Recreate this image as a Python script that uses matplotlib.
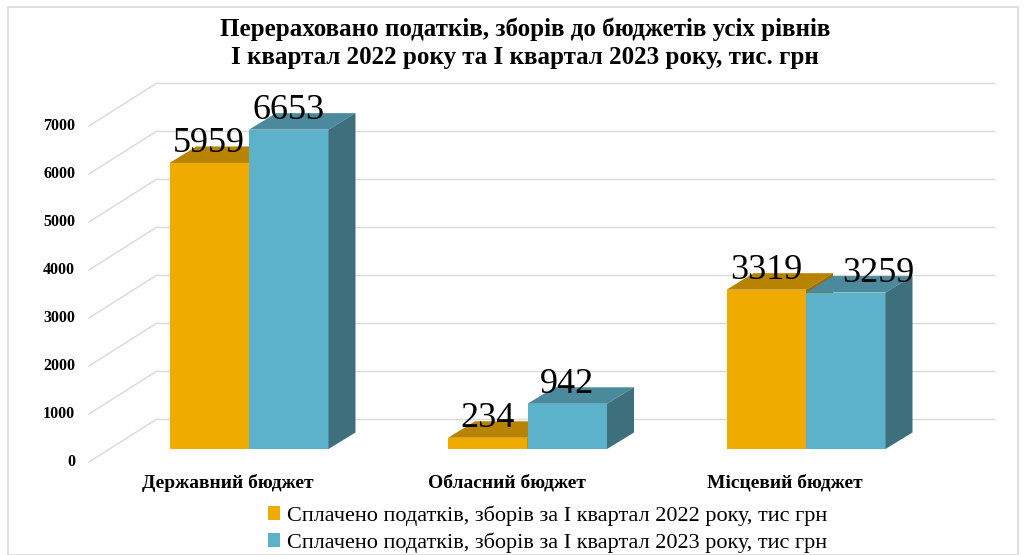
import numpy as np
import matplotlib.pyplot as plt
from matplotlib.patches import Polygon, Rectangle, Patch

# ----- data ----------------------------------------------------------------
categories = ["Державний бюджет", "Обласний бюджет", "Місцевий бюджет"]
paid_2022 = [5959, 234, 3319]
paid_2023 = [6653, 942, 3259]
series_names = [
    "Сплачено податків, зборів за I квартал 2022 року, тис грн",
    "Сплачено податків, зборів за I квартал 2023 року, тис грн",
]
y_ticks = [0, 1000, 2000, 3000, 4000, 5000, 6000, 7000]
title = ("Перераховано податків, зборів до бюджетів усіх рівнів\n"
         "I квартал 2022 року та I квартал 2023 року, тис. грн")

# ----- styles --------------------------------------------------------------
SERIF = ["Liberation Serif", "DejaVu Serif"]
FRONT = ["#F0AB00", "#5DB2CB"]
TOP = ["#B88400", "#4A8A9C"]
SIDE = ["#9A6F00", "#3E6F7D"]
GRID = "#D9D9D9"

W, H, DPI = 1026, 555, 100
PX_X = 278.5        # pixels per category step
PX_Y = 0.048        # pixels per value unit
BAR_W = 79.5 / PX_X

def dx(px):
    return px / PX_X

def dy(px):
    return px / PX_Y

# depth vectors (pixels, converted to data units)
BAR_DX, BAR_DY = dx(27), dy(16.5)       # bar depth
FRONT_DX, FRONT_DY = dx(-21), dy(-13)   # floor front edge relative to bar plane
BACK_DX, BACK_DY = dx(47), dy(30)       # back wall relative to bar plane
WALL_END = dx(994 - 249)

fig = plt.figure(figsize=(W / DPI, H / DPI), dpi=DPI)
ax = fig.add_axes([0, 0, 1, 1])
ax.set_xlim(dx(-249), dx(W - 249))
ax.set_ylim(dy(449 - H), dy(449))
ax.axis("off")

x = np.arange(len(categories))

# ----- side wall / back wall gridlines -------------------------------------
left_front_x = dx(89 - 249)
for g in y_ticks:
    fx, fy = left_front_x, g + FRONT_DY
    bx, by = fx + (BACK_DX - FRONT_DX), g + BACK_DY
    ax.plot([fx, bx], [fy, by], color=GRID, lw=1, zorder=1)
    ax.plot([bx, WALL_END], [by, by], color=GRID, lw=1, zorder=1)
    ax.text(fx - dx(14), fy, str(g), ha="right", va="center",
            fontsize=11.5, fontweight="bold", family=SERIF)

# ----- 3D bars -------------------------------------------------------------
def bar3d(x0, v, k, z):
    x1 = x0 + BAR_W
    ax.add_patch(Rectangle((x0, 0), BAR_W, v, facecolor=FRONT[k],
                           edgecolor="none", zorder=z))
    ax.add_patch(Polygon([(x0, v), (x1, v), (x1 + BAR_DX, v + BAR_DY),
                          (x0 + BAR_DX, v + BAR_DY)], closed=True,
                         facecolor=TOP[k], edgecolor="none", zorder=z))
    ax.add_patch(Polygon([(x1, 0), (x1 + BAR_DX, BAR_DY),
                          (x1 + BAR_DX, v + BAR_DY), (x1, v)], closed=True,
                         facecolor=SIDE[k], edgecolor="none", zorder=z))

label_nudge = [[0, 0], [0, 0], [0, 32]]   # pixels, to keep labels apart
for i in x:
    for k, vals in enumerate([paid_2022, paid_2023]):
        x0 = i - BAR_W + k * BAR_W
        bar3d(x0, vals[i], k, 3 + k)
        ax.text(x0 + BAR_W / 2 + dx(label_nudge[i][k]), vals[i] + dy(11),
                str(vals[i]), ha="center", va="baseline", fontsize=26,
                family=SERIF, zorder=10)

# ----- category labels -----------------------------------------------------
for i, c in enumerate(categories):
    ax.text(i + FRONT_DX, dy(449 - 483), c, ha="center", va="center",
            fontsize=14, fontweight="bold", family=SERIF)

# ----- title, legend, frame ------------------------------------------------
fig.text(0.512, 1 - 43 / H, title, ha="center", va="center", fontsize=18,
         fontweight="bold", family=SERIF, linespacing=1.3)

handles = [Patch(facecolor=FRONT[0]), Patch(facecolor=FRONT[1])]
fig.legend(handles, series_names, loc="center left",
           bbox_to_anchor=(257 / W, 1 - 529 / H), frameon=False,
           prop={"family": SERIF, "size": 16}, handlelength=0.55,
           handleheight=0.55, handletextpad=0.3, labelspacing=0.3,
           borderpad=0)

fig.add_artist(Rectangle((8 / W, 0), 1010 / W, 1 - 7 / H, transform=fig.transFigure,
                         fill=False, edgecolor=GRID, lw=1.2))

fig.savefig("out.png", dpi=DPI)
